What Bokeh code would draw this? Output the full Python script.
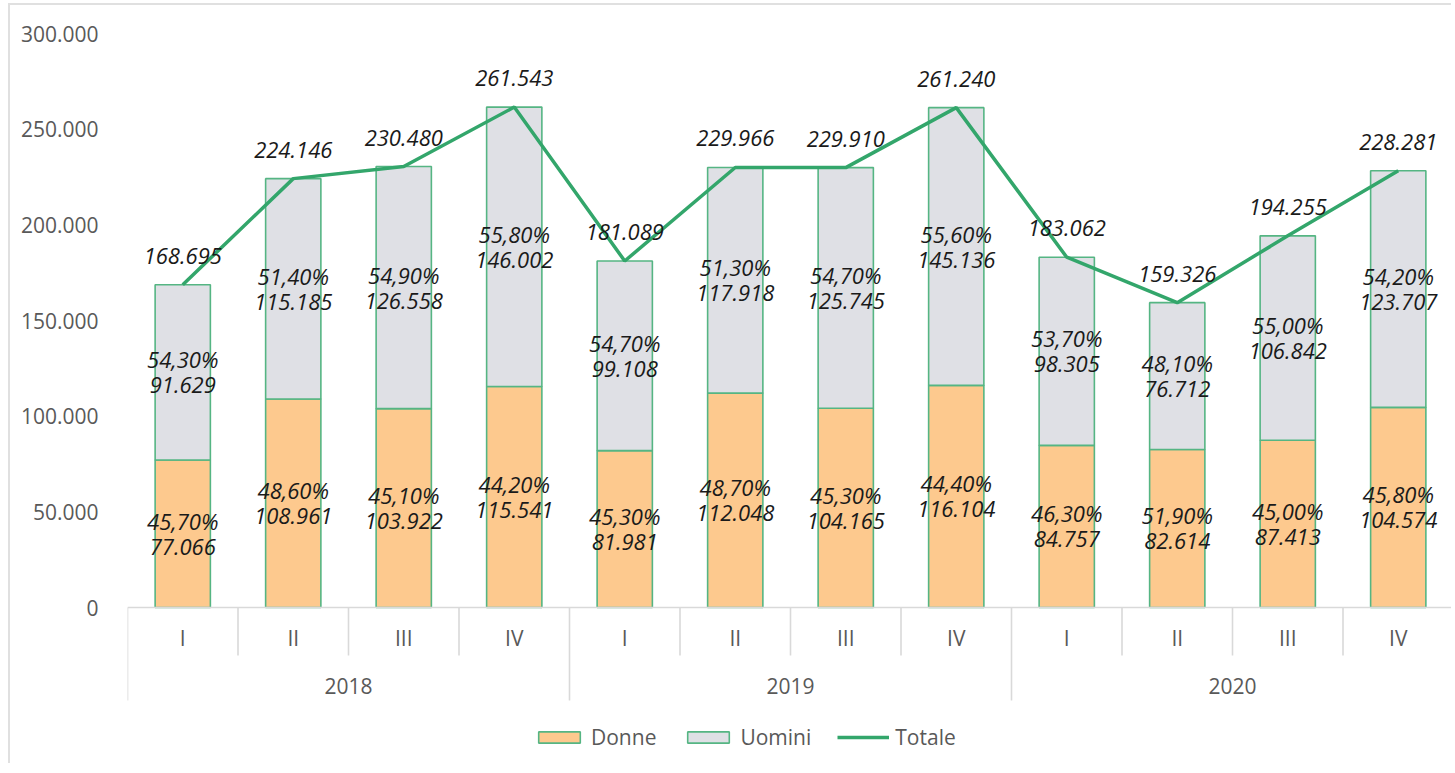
from bokeh.plotting import figure
from bokeh.models import (ColumnDataSource, Range1d, FixedTicker, CustomJSTickFormatter,
                          Legend, LegendItem)
from bokeh.core.properties import value
from bokeh.embed import file_html
from bokeh.resources import INLINE

# ---------------- data ----------------
years = ["2018", "2019", "2020"]
quarters = ["I", "II", "III", "IV"]
donne = [77066, 108961, 103922, 115541, 81981, 112048, 104165, 116104, 84757, 82614, 87413, 104574]
uomini = [91629, 115185, 126558, 146002, 99108, 117918, 125745, 145136, 98305, 76712, 106842, 123707]
totale = [168695, 224146, 230480, 261543, 181089, 229966, 229910, 261240, 183062, 159326, 194255, 228281]
donne_pct = [45.70, 48.60, 45.10, 44.20, 45.30, 48.70, 45.30, 44.40, 46.30, 51.90, 45.00, 45.80]
uomini_pct = [54.30, 51.40, 54.90, 55.80, 54.70, 51.30, 54.70, 55.60, 53.70, 48.10, 55.00, 54.20]
y_ticks = [0, 50000, 100000, 150000, 200000, 250000, 300000]


def it_num(v):
    return f"{v:,}".replace(",", ".")


def it_pct(v):
    return f"{v:.2f}%".replace(".", ",")


n = len(donne)
nq = len(quarters)
xs = [i + 0.5 for i in range(n)]

# ---------------- layout constants ----------------
W, H = 1443, 760
TOP, LEFT = 28, 117
Y_MAX = 300000
frame_h = H - TOP
axis_px = 574                     # pixels from 0 to Y_MAX
U = Y_MAX / axis_px               # data units per pixel
y_min = -(frame_h - axis_px) * U

GREEN_LINE = "#33A66B"
GREEN_EDGE = "#55B583"
ORANGE = "#FDC98E"
GREY = "#DFE0E5"
AXIS_GREY = "#D9D9D9"
TXT_GREY = "#595959"
FONT = value("Open Sans")

p = figure(width=W, height=H, output_backend="svg", toolbar_location=None,
           x_range=Range1d(0, n), y_range=Range1d(y_min, Y_MAX),
           x_axis_location=None, min_border_left=LEFT, min_border_top=TOP,
           min_border_right=0, min_border_bottom=0)
p.styles = {"border-left": "2px solid #E0E0E0", "border-top": "2px solid #E0E0E0",
            "margin-left": "8px", "margin-top": "3px"}
p.outline_line_color = None
p.xgrid.visible = False
p.ygrid.visible = False
p.background_fill_color = "white"
p.border_fill_color = "white"

yax = p.yaxis[0]
yax.ticker = FixedTicker(ticks=y_ticks)
yax.formatter = CustomJSTickFormatter(code="""
    return Math.round(tick).toString().replace(/\\B(?=(\\d{3})+(?!\\d))/g, ".");
""")
yax.axis_line_color = None
yax.major_tick_line_color = None
yax.minor_tick_line_color = None
yax.major_label_standoff = 23
yax.major_label_text_font = "Open Sans"
yax.major_label_text_font_size = "21px"
yax.major_label_text_color = TXT_GREY

src = ColumnDataSource(dict(
    x=xs, donne=donne, uomini=uomini, totale=totale,
    d_mid=[d / 2 for d in donne],
    u_mid=[d + u / 2 for d, u in zip(donne, uomini)],
    d_pct=[it_pct(v) for v in donne_pct],
    u_pct=[it_pct(v) for v in uomini_pct],
    d_lab=[it_num(v) for v in donne],
    u_lab=[it_num(v) for v in uomini],
    t_lab=[it_num(v) for v in totale],
))

bars = p.vbar_stack(["donne", "uomini"], x="x", width=0.5, source=src,
                    fill_color=[ORANGE, GREY], line_color=GREEN_EDGE, line_width=1.6)
line = p.line("x", "totale", source=src, line_color=GREEN_LINE, line_width=3.5)

lab_kw = dict(source=src, text_font=FONT, text_font_style="italic",
              text_font_size="22px", text_color="#1A1A1A",
              text_align="center", text_baseline="middle")
p.text(x="x", y="d_mid", text="d_pct", y_offset=-13, **lab_kw)
p.text(x="x", y="d_mid", text="d_lab", y_offset=13, **lab_kw)
p.text(x="x", y="u_mid", text="u_pct", y_offset=-13, **lab_kw)
p.text(x="x", y="u_mid", text="u_lab", y_offset=13, **lab_kw)
p.text(x="x", y="totale", text="t_lab", y_offset=-29, **lab_kw)

# ---------------- two-level category axis ----------------
p.segment(x0=[0], y0=[0], x1=[n], y1=[0], line_color=AXIS_GREY, line_width=1.6)
bounds = list(range(n + 1))
sep_y = [(-93 * U if b % nq == 0 else -48 * U) for b in bounds]
p.segment(x0=bounds, y0=[0] * len(bounds), x1=bounds, y1=sep_y,
          line_color=AXIS_GREY, line_width=1.6)

q_labels = [quarters[i % nq] for i in range(n)]
p.text(x=xs, y=[-30 * U] * n, text=q_labels, text_font=FONT, text_font_size="21px",
       text_color=TXT_GREY, text_align="center", text_baseline="middle")
yx = [nq * k + nq / 2 for k in range(len(years))]
p.text(x=yx, y=[-78 * U] * len(years), text=years, text_font=FONT, text_font_size="21px",
       text_color=TXT_GREY, text_align="center", text_baseline="middle")

# ---------------- legend ----------------
legend = Legend(items=[LegendItem(label="Donne", renderers=[bars[0]]),
                       LegendItem(label="Uomini", renderers=[bars[1]]),
                       LegendItem(label="Totale", renderers=[line])],
                orientation="horizontal", location=(406, 14),
                glyph_width=52, glyph_height=14, label_standoff=6, spacing=26,
                padding=0, margin=0, border_line_color=None, background_fill_alpha=0,
                label_text_font="Open Sans", label_text_font_size="21px",
                label_text_color=TXT_GREY, label_height=20)
p.add_layout(legend, "center")

open("out.html", "w").write(file_html(p, INLINE))
